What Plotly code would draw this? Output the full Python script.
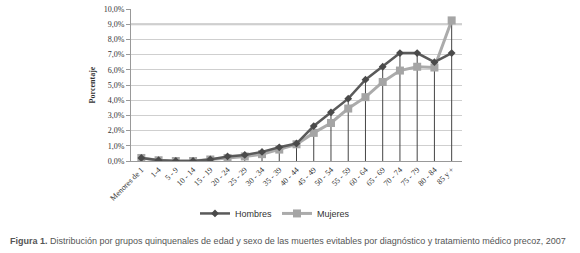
import plotly.graph_objects as go

categories = ["Menores de 1", "1-4", "5 - 9", "10 - 14", "15 - 19", "20 - 24", "25 - 29",
              "30 - 34", "35 - 39", "40 - 44", "45 - 49", "50 - 54", "55 - 59", "60 - 64",
              "65 - 69", "70 - 74", "75 - 79", "80 - 84", "85 y +"]
hombres = [0.2, 0.05, 0.0, 0.0, 0.1, 0.3, 0.4, 0.6, 0.9, 1.15, 2.3, 3.2, 4.1, 5.35,
           6.2, 7.1, 7.1, 6.5, 7.1]
mujeres = [0.2, 0.05, 0.0, 0.0, 0.1, 0.2, 0.3, 0.45, 0.75, 1.1, 1.85, 2.5, 3.45, 4.2,
           5.2, 5.95, 6.2, 6.15, 9.25]
y_ticks = [0, 1, 2, 3, 4, 5, 6, 7, 8, 9, 10]
y_ticktext = [f"{v:.1f}%".replace(".", ",") for v in y_ticks]

serif = "Liberation Serif"
sans = "Liberation Sans"

# drop lines from the highest point of each category down to the axis
drop_x, drop_y = [], []
for c, h, m in zip(categories, hombres, mujeres):
    drop_x += [c, c, None]
    drop_y += [0, max(h, m), None]

fig = go.Figure()
fig.add_trace(go.Scatter(x=drop_x, y=drop_y, mode="lines",
                         line=dict(color="#444444", width=1), showlegend=False,
                         hoverinfo="skip"))
fig.add_trace(go.Scatter(x=categories, y=mujeres, name="Mujeres", mode="lines+markers",
                         line=dict(color="#ababab", width=3),
                         marker=dict(symbol="square", size=8, color="#a5a5a5")))
fig.add_trace(go.Scatter(x=categories, y=hombres, name="Hombres", mode="lines+markers",
                         line=dict(color="#5a5a5a", width=2.5),
                         marker=dict(symbol="diamond", size=6, color="#4a4a4a")))

fig.add_shape(type="line", xref="paper", x0=0, x1=1, yref="y", y0=9, y1=9,
              line=dict(color="#c4c4c4", width=2), layer="below")

fig.update_layout(
    width=580, height=253,
    margin=dict(l=131, r=118, t=9, b=92),
    paper_bgcolor="white", plot_bgcolor="white",
    showlegend=True,
    legend=dict(orientation="h", x=0.435, xanchor="center", y=-0.345, yanchor="middle",
                font=dict(family=sans, size=9, color="#333"), traceorder="reversed",
                itemwidth=30, bgcolor="rgba(0,0,0,0)", tracegroupgap=0),
    xaxis=dict(type="category", range=[-0.6, 18.6], tickangle=-45, automargin=False,
               tickfont=dict(family=serif, size=8, color="#333"),
               showgrid=False, showline=True, linecolor="#999", linewidth=1,
               ticks="", fixedrange=True),
    yaxis=dict(range=[0, 10], tickvals=y_ticks, ticktext=y_ticktext, automargin=False,
               tickfont=dict(family=serif, size=8, color="#333"),
               showgrid=True, gridcolor="#cfcfcf", gridwidth=1,
               showline=True, linecolor="#999", linewidth=1,
               ticks="outside", ticklen=4, tickcolor="#999", zeroline=False,
               title=dict(text="<b>Porcentaje</b>", font=dict(family=serif, size=8, color="#333"),
                          standoff=6)),
    annotations=[dict(text="<b>Figura 1.</b> Distribución por grupos quinquenales de edad y sexo de las muertes evitables por diagnóstico y tratamiento médico precoz, 2007",
                      xref="paper", yref="paper", x=-123/331, xanchor="left",
                      y=(160.7 - 241) / 151.7, yanchor="middle", showarrow=False,
                      font=dict(family=sans, size=9, color="#555"))],
)

fig.write_html("out.html", config={"displayModeBar": False},
               post_script="document.body.style.margin='0';")
